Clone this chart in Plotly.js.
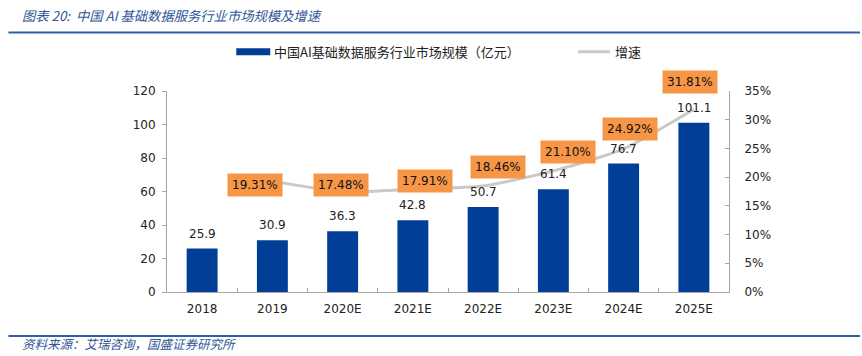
<!DOCTYPE html>
<html>
<head>
<meta charset="utf-8">
<script src="https://cdn.plot.ly/plotly-3.0.1.min.js"></script>
<style>html,body{margin:0;padding:0;background:#fff;}#chart{width:862px;height:356px;}</style>
</head>
<body>
<div id="chart"></div>
<script>
// ---- data ----
const categories = ["2018", "2019", "2020E", "2021E", "2022E", "2023E", "2024E", "2025E"];
const marketSize = [25.9, 30.9, 36.3, 42.8, 50.7, 61.4, 76.7, 101.1];
const growthRate = [null, 0.1931, 0.1748, 0.1791, 0.1846, 0.2110, 0.2492, 0.3181];
const growthLabels = ["", "19.31%", "17.48%", "17.91%", "18.46%", "21.10%", "24.92%", "31.81%"];
const barName = "中国AI基础数据服务行业市场规模（亿元）";
const lineName = "增速";
const titleText = "图表 20:  中国 AI 基础数据服务行业市场规模及增速";
const sourceText = "资料来源：艾瑞咨询，国盛证券研究所";

// ---- style ----
const W = 862, H = 356;
const L = 166.7, R = 729, T = 90.7, B = 292;
const px = x => (x - L) / (R - L);
const py = y => (B - y) / (B - T);
const numFont = "DejaVu Sans, Verdana, sans-serif";
const cjkFont = "Noto Sans CJK SC, sans-serif";
const blue = "#2F5597";
// label offsets (pixels) relative to the growth points
const labelDx = [0, -17, -2, 12, 15, 15, 6, -4];
const labelDy = [0, -4, 7, 8, 19, 19, 20, 27];

const bar = {
  type: "bar", x: categories, y: marketSize, name: barName,
  marker: {color: "#003E97"}, width: 0.44,
  showlegend: false, hoverinfo: "skip"
};
const line = {
  type: "scatter", mode: "lines", x: categories, y: growthRate, yaxis: "y2",
  name: lineName, line: {color: "#C9C9C9", width: 3, shape: "spline", smoothing: 0.6},
  connectgaps: false, showlegend: false, hoverinfo: "skip"
};

const annotations = [];
// bar value labels (drawn above the growth line)
marketSize.forEach((v, i) => {
  annotations.push({
    x: i, y: v, xref: "x", yref: "y", text: v.toFixed(1), showarrow: false,
    yanchor: "bottom", yshift: 6,
    font: {family: numFont, size: 12, color: "#222"}
  });
});
categories.forEach((c, i) => {
  if (growthRate[i] === null) return;
  annotations.push({
    x: i, y: growthRate[i], xref: "x", yref: "y2", text: growthLabels[i],
    showarrow: false, xshift: labelDx[i], yshift: labelDy[i],
    bgcolor: "#F79646", borderpad: 4,
    font: {family: numFont, size: 12, color: "#111"}
  });
});
annotations.push(
  {xref: "paper", yref: "paper", x: px(20), y: py(15), xanchor: "left", yanchor: "middle",
   text: titleText, showarrow: false, font: {family: cjkFont, size: 13.3, color: blue, style: "italic"}},
  {xref: "paper", yref: "paper", x: px(20), y: py(344), xanchor: "left", yanchor: "middle",
   text: sourceText, showarrow: false, font: {family: cjkFont, size: 12.5, color: blue, style: "italic"}},
  {xref: "paper", yref: "paper", x: px(272), y: py(51.5), xanchor: "left", yanchor: "middle",
   text: barName, showarrow: false, font: {family: cjkFont, size: 13, color: "#222"}},
  {xref: "paper", yref: "paper", x: px(613), y: py(51.5), xanchor: "left", yanchor: "middle",
   text: lineName, showarrow: false, font: {family: cjkFont, size: 13, color: "#222"}}
);

const shapes = [
  {type: "line", xref: "paper", yref: "paper", x0: px(8), x1: px(860), y0: py(32), y1: py(32),
   line: {color: "#2E5DAA", width: 2}},
  {type: "line", xref: "paper", yref: "paper", x0: px(8), x1: px(860), y0: py(336), y1: py(336),
   line: {color: "#2E5DAA", width: 2}},
  {type: "rect", xref: "paper", yref: "paper", x0: px(236), x1: px(270), y0: py(48), y1: py(55),
   fillcolor: "#003E97", line: {width: 0}},
  {type: "line", xref: "paper", yref: "paper", x0: px(578), x1: px(610), y0: py(51.5), y1: py(51.5),
   line: {color: "#C9C9C9", width: 3}}
];

const layout = {
  width: W, height: H, autosize: false,
  margin: {l: L, r: W - R, t: T, b: H - B, pad: 0},
  paper_bgcolor: "#fff", plot_bgcolor: "#fff",
  showlegend: false, bargap: 0.56,
  font: {family: numFont, size: 12, color: "#222"},
  xaxis: {type: "category", range: [-0.5, categories.length - 0.5], autorange: false,
          showline: true, linecolor: "#A6A6A6", linewidth: 1,
          ticks: "inside", ticklen: 4, tickcolor: "#A6A6A6", tickson: "boundaries",
          showgrid: false, zeroline: false, tickfont: {family: numFont, size: 12, color: "#222"},
          ticklabelstandoff: 6},
  yaxis: {range: [0, 120], autorange: false, dtick: 20, showline: true, linecolor: "#A6A6A6", linewidth: 1,
          ticks: "outside", ticklen: 4, tickcolor: "#A6A6A6", showgrid: false, zeroline: false,
          tickfont: {family: numFont, size: 12, color: "#222"}, ticklabelstandoff: 4},
  yaxis2: {range: [0, 0.35], autorange: false, dtick: 0.05, tickformat: ".0%", overlaying: "y", side: "right",
           showline: true, linecolor: "#A6A6A6", linewidth: 1, ticks: "inside", ticklen: 4,
           tickcolor: "#A6A6A6", showgrid: false, zeroline: false,
           tickfont: {family: numFont, size: 12, color: "#222"}, ticklabelstandoff: 12},
  annotations: annotations, shapes: shapes
};

Plotly.newPlot("chart", [bar, line], layout, {staticPlot: true, displayModeBar: false});
</script>
</body>
</html>
